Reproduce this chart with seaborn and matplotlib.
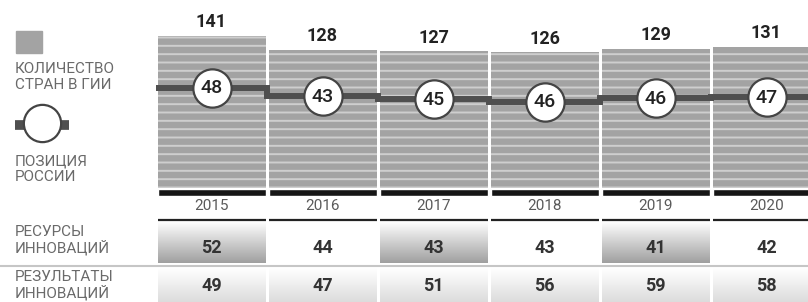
import numpy as np
import pandas as pd
import matplotlib
matplotlib.use("Agg")
import matplotlib.pyplot as plt
from matplotlib.colors import LinearSegmentedColormap
from matplotlib.patches import Rectangle
import seaborn as sns

# данные
years = [2015, 2016, 2017, 2018, 2019, 2020]
countries = [141, 128, 127, 126, 129, 131]      # количество стран в ГИИ
russia_rank = [48, 43, 45, 46, 46, 47]          # позиция России
inputs_rank = [52, 44, 43, 43, 41, 42]          # ресурсы инноваций
outputs_rank = [49, 47, 51, 56, 59, 58]         # результаты инноваций

# геометрия картинки (пиксели)
W, H = 808, 302
COL = 111.0     # шаг колонки
K = 1.08        # пикселей на одну страну
BASE = 188      # строка нуля
X0 = 211.5      # центр первой колонки


def ypx(p):
    return (BASE - p) / K


def fx(p):
    return p / W


def fy(p):
    return 1 - p / H


sns.set_style("white")
plt.rcParams["font.family"] = ["Roboto", "DejaVu Sans"]
plt.rcParams["hatch.linewidth"] = 1.4

df = pd.DataFrame({"year": years, "count": countries, "rank": russia_rank})
df["pos"] = df["count"] - df["rank"]

fig = plt.figure(figsize=(W / 100, H / 100), dpi=100)
ax = fig.add_axes([0, 0, 1, 1])

bw = 108 / COL
sns.barplot(data=df, x="year", y="count", native_scale=True, color="#a3a3a3",
            saturation=1, width=bw, errorbar=None, ax=ax, zorder=1)
for p in ax.patches:
    p.set_hatch("--")
    p.set_edgecolor("#cecece")
    p.set_linewidth(0)

yrs = np.array(years)
# чёрные подставки под столбцами
ax.bar(yrs, ypx(189) - ypx(196), bottom=ypx(196), width=bw, color="#161616", zorder=1)

# подписи над столбцами
for x, c in zip(years, countries):
    ax.text(x, c + 4, str(c), ha="center", va="bottom", fontsize=13,
            fontweight="bold", color="#222222")

# линия позиции России
edges = np.append(yrs - 0.5, yrs[-1] + 0.5)
ax.stairs(df["pos"], edges, baseline=None, color="#4f4f4f", linewidth=4.3, zorder=3)
sns.scatterplot(data=df, x="year", y="pos", s=760, color="white", edgecolor="#444444",
                linewidth=1.6, zorder=4, ax=ax, legend=False)
for x, y, r in zip(years, df["pos"], russia_rank):
    ax.text(x, y - 0.5, str(r), ha="center", va="center", fontsize=14,
            fontweight="medium", color="#222222", zorder=5)

# таблица
res_cmap = LinearSegmentedColormap.from_list("res", ["#a0a0a0", "#ffffff"])
out_cmap = LinearSegmentedColormap.from_list("out", ["#dcdcdc", "#ffffff"])
grad = np.linspace(0, 1, 64).reshape(-1, 1)
for i, x in enumerate(years):
    l, r = x - bw / 2, x + bw / 2
    if i % 2 == 0:
        ax.imshow(grad, cmap=res_cmap, extent=(l, r, ypx(263), ypx(221)),
                  aspect="auto", origin="lower", zorder=0)
    ax.imshow(grad, cmap=out_cmap, extent=(l, r, ypx(302), ypx(268)),
              aspect="auto", origin="lower", zorder=0)
ax.hlines(np.full(len(yrs), ypx(220)), yrs - bw / 2, yrs + bw / 2,
          color="#222222", linewidth=1.6)
ax.axhline(ypx(266), color="#c6c6c6", linewidth=1.5)

for x, a, b in zip(years, inputs_rank, outputs_rank):
    ax.text(x, ypx(206), str(x), ha="center", va="center", fontsize=11, color="#5a5a5a")
    ax.text(x, ypx(248), str(a), ha="center", va="center", fontsize=13,
            fontweight="bold", color="#333333")
    ax.text(x, ypx(286), str(b), ha="center", va="center", fontsize=13,
            fontweight="bold", color="#333333")

# легенда слева
lab = dict(ha="left", va="center", fontsize=11, color="#6a6a6a",
           linespacing=1.1, transform=ax.transAxes)
ax.add_patch(Rectangle((fx(16), fy(53)), 26 / W, 22 / H, transform=ax.transAxes,
                       color="#a3a3a3", zorder=2))
ax.text(fx(15), fy(77), "КОЛИЧЕСТВО\nСТРАН В ГИИ", **lab)
ax.plot([fx(15), fx(69)], [fy(125), fy(125)], transform=ax.transAxes,
        color="#4f4f4f", linewidth=7, solid_capstyle="butt", zorder=3)
ax.scatter([fx(42)], [fy(123)], s=720, color="white", edgecolor="#444444",
           linewidth=1.6, transform=ax.transAxes, zorder=4)
ax.text(fx(15), fy(169), "ПОЗИЦИЯ\nРОССИИ", **lab)
ax.text(fx(15), fy(240), "РЕСУРСЫ\nИННОВАЦИЙ", **lab)
ax.text(fx(15), fy(285), "РЕЗУЛЬТАТЫ\nИННОВАЦИЙ", **lab)

ax.set_xlim(years[0] + (0 - X0) / COL, years[0] + (W - X0) / COL)
ax.set_ylim(ypx(H), ypx(0))
ax.set_axis_off()

fig.savefig("out.png", dpi=100)
